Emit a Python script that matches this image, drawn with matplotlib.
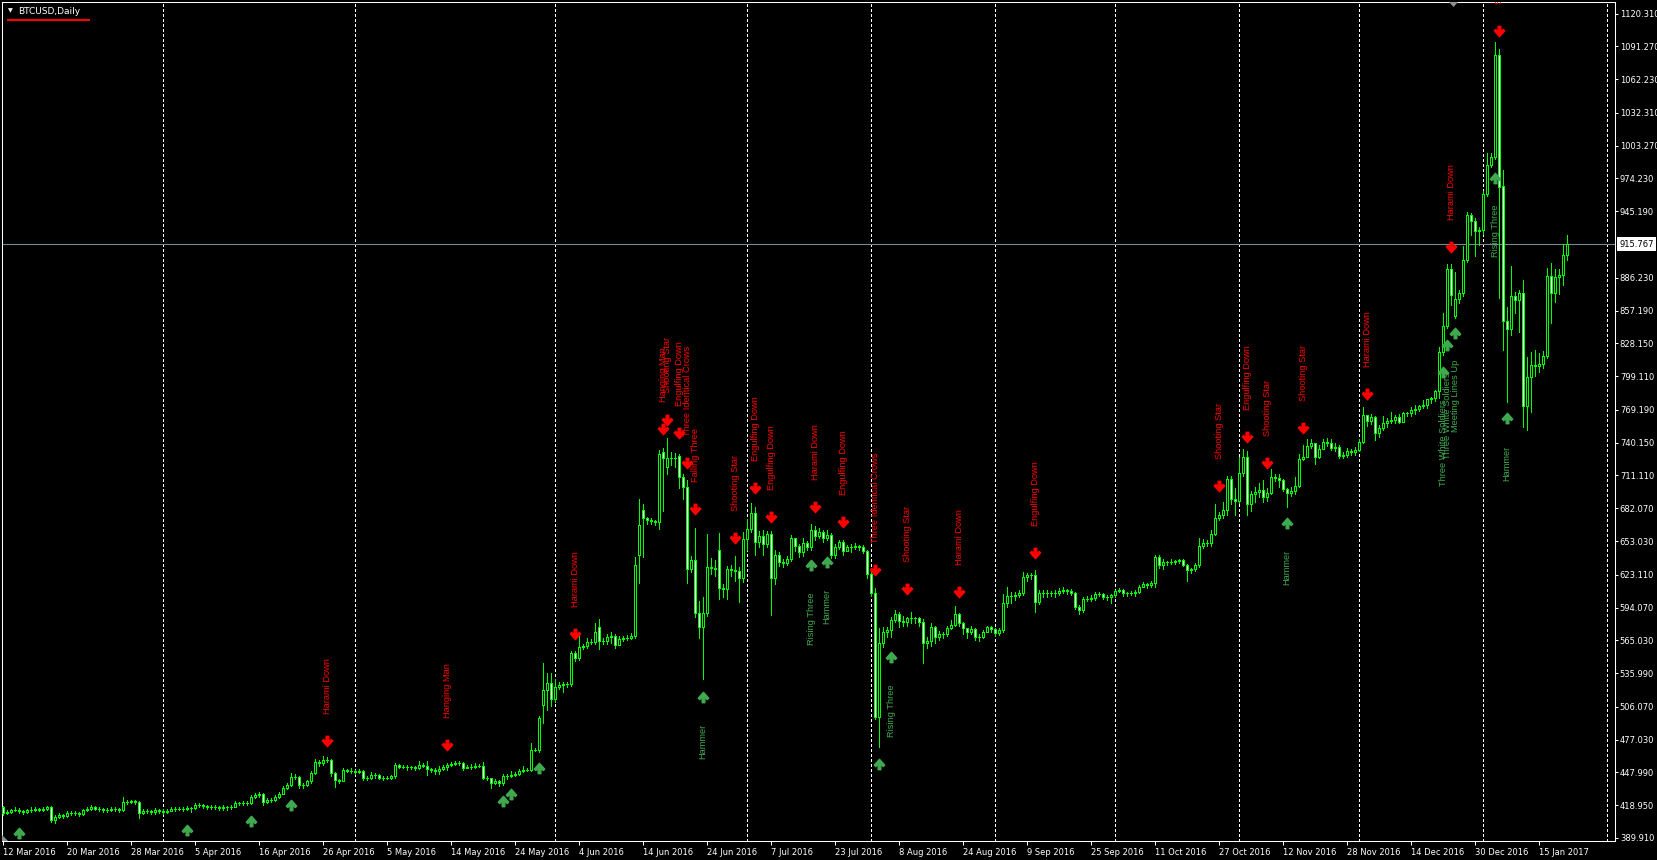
import numpy as np
import matplotlib
matplotlib.use('Agg')
import matplotlib.pyplot as plt
from matplotlib.path import Path
from matplotlib.lines import Line2D
from matplotlib.patches import Polygon

plt.rcParams['font.family'] = ['DejaVu Sans']

# ---- daily BTCUSD bars (bar index 0 = 12 Mar 2016) ----
closes = [
    412.0, 413.0, 414.5, 415.0, 414.0, 413.2, 414.5, 415.0, 415.3, 415.0,
    416.0, 417.0, 405.5, 408.8, 410.0, 409.5, 412.0, 412.2, 411.8, 411.0,
    414.7, 415.3, 417.0, 416.0, 415.3, 414.7, 414.7, 415.3, 415.3, 414.7,
    422.1, 422.0, 422.5, 422.0, 412.5, 414.0, 414.0, 413.0, 414.7, 414.0,
    413.0, 414.0, 415.3, 416.0, 416.0, 416.0, 416.2, 416.2, 419.2, 419.2,
    418.0, 417.7, 417.7, 417.7, 416.2, 417.0, 417.0, 417.7, 420.7, 420.7,
    420.7, 421.2, 426.5, 428.0, 429.0, 422.1, 423.6, 423.6, 426.5, 429.0,
    434.5, 436.9, 443.7, 444.3, 436.6, 437.0, 440.0, 447.8, 457.5, 456.6,
    459.0, 459.0, 447.8, 441.3, 440.7, 450.2, 449.5, 449.0, 448.7, 449.5,
    443.4, 443.4, 445.7, 445.7, 443.5, 443.5, 443.5, 444.5, 454.3, 453.1,
    453.1, 452.5, 452.5, 451.7, 454.6, 454.0, 450.6, 450.2, 449.5, 450.6,
    452.5, 454.6, 455.5, 456.1, 456.1, 451.7, 453.1, 452.5, 453.8, 453.8,
    443.4, 442.8, 438.9, 440.2, 438.9, 444.8, 444.8, 445.7, 446.6, 449.5,
    450.2, 450.2, 468.3, 468.3, 496.0, 521.0, 527.0, 512.8, 524.0, 525.5,
    526.0, 526.0, 553.5, 549.7, 559.5, 560.0, 563.9, 563.9, 572.7, 564.7,
    564.4, 568.3, 568.9, 561.0, 566.0, 566.9, 567.5, 568.9, 631.8, 667.2,
    673.2, 671.7, 670.8, 670.0, 729.9, 726.3, 726.3, 726.3, 727.0, 710.0,
    701.3, 628.0, 636.4, 589.5, 576.6, 589.5, 629.7, 629.0, 628.0, 611.1,
    610.5, 628.0, 627.5, 626.5, 620.0, 654.5, 663.4, 678.1, 652.4, 657.4,
    650.0, 659.0, 620.7, 640.8, 634.7, 633.6, 636.8, 655.4, 648.6, 643.6,
    651.6, 648.0, 662.8, 657.5, 661.3, 655.4, 658.4, 640.6, 647.5, 652.5,
    644.5, 648.0, 647.5, 648.9, 648.0, 644.5, 623.8, 606.7, 497.4, 562.4,
    572.7, 574.2, 583.1, 588.4, 582.5, 581.6, 584.6, 584.6, 584.6, 581.6,
    563.0, 564.7, 576.6, 567.7, 570.6, 570.6, 575.7, 578.3, 588.4, 580.7,
    575.7, 572.7, 574.8, 567.7, 568.3, 572.4, 576.6, 575.4, 571.3, 574.2,
    597.8, 604.3, 604.3, 605.2, 607.2, 621.4, 622.7, 623.0, 599.3, 607.2,
    606.6, 607.2, 607.2, 606.6, 609.0, 609.6, 609.0, 606.6, 594.9, 591.9,
    601.4, 601.4, 602.3, 606.1, 606.1, 603.7, 603.7, 605.2, 608.7, 609.6,
    606.6, 606.6, 606.6, 607.8, 612.0, 615.0, 614.0, 615.6, 638.6, 631.8,
    634.4, 634.4, 634.4, 635.3, 636.2, 631.8, 627.4, 628.0, 631.8, 648.6,
    651.6, 651.0, 659.3, 673.2, 676.1, 680.5, 707.7, 690.0, 688.8, 713.6,
    727.2, 685.8, 694.7, 696.5, 698.2, 692.3, 695.9, 709.5, 708.6, 707.1,
    698.9, 695.3, 697.6, 701.8, 725.4, 727.7, 737.2, 739.6, 727.2, 734.3,
    741.0, 740.0, 735.2, 736.1, 728.4, 729.0, 733.1, 732.2, 733.7, 741.0,
    764.7, 759.6, 763.2, 749.0, 752.9, 757.9, 759.6, 760.2, 763.2, 758.8,
    766.2, 766.2, 769.1, 770.3, 772.7, 773.5, 778.6, 779.5, 786.2, 820.8,
    843.5, 893.8, 871.0, 867.2, 872.5, 902.0, 941.9, 936.8, 928.0, 928.5,
    960.5, 986.2, 993.5, 1083.6, 966.4, 848.2, 840.6, 870.1, 866.6, 873.0,
    772.9, 798.1, 808.9, 808.3, 809.9, 817.0, 887.9, 873.0, 887.3, 888.8,
    906.5, 915.8,
]

highs = [
    418.5, 415, 416, 417, 416.5, 415, 416, 417, 417, 416.5,
    417.5, 418.5, 418, 410.5, 412, 411.5, 413.5, 414, 413.5, 413,
    416, 417, 419, 418, 417, 416.5, 416.5, 417, 417, 416.5,
    426.5, 424, 424, 423.5, 423, 416, 415.5, 415, 416.5, 416,
    415.5, 416, 417, 417.5, 417.5, 417.5, 418, 417.5, 421, 421,
    420, 419.5, 419, 419.5, 418.5, 419, 418.5, 419.5, 422.5, 422,
    422.5, 423, 428, 430, 430.5, 429.5, 425, 425.5, 428, 430.5,
    436, 439, 447.5, 447, 445, 439, 441.5, 449.5, 459.5, 459,
    462.5, 461.5, 460, 448.5, 442.5, 451.5, 451, 451.5, 450.5, 451,
    450.5, 445, 448, 447.5, 447, 445, 445, 446, 456, 455.5,
    454.5, 454.5, 454, 453.5, 458, 456, 458, 452, 452, 453.5,
    455, 456.5, 457, 458.5, 458, 457.5, 455, 455.5, 456, 455.5,
    457, 444.5, 443, 442.5, 441.5, 447, 447, 449, 448.5, 451,
    453.8, 452, 473.8, 470, 498, 545, 536, 536.4, 530.5, 528,
    528.5, 528, 556, 556, 571.3, 562, 566.8, 566, 580, 584,
    567, 570.5, 572, 571, 569, 568.5, 569.5, 571.5, 638.6, 690,
    685.8, 674, 673, 672, 733.7, 735.7, 744, 732.2, 731.3, 730,
    712, 707.2, 640, 665, 600, 603.7, 659.3, 638, 636, 660,
    615, 630.7, 632, 639.8, 630, 661, 672.3, 687, 682.8, 662,
    663, 662, 662, 645, 643, 637, 640, 658.7, 655.5, 650,
    656, 653, 668.2, 666.5, 664.5, 663, 663, 660, 650, 653.5,
    654, 649.5, 650, 651, 649.5, 649.5, 645.5, 626, 611, 576,
    577, 577, 586, 591.5, 590, 586.8, 586, 590, 586, 585.5,
    584, 568, 580, 578, 573, 572, 578, 583, 595.5, 589,
    581, 576, 578, 576, 571, 574, 578, 578, 576, 576,
    606.4, 612.6, 608, 608, 609.5, 625.8, 624.5, 625, 627, 610,
    609.5, 609.5, 609, 609.5, 611.5, 612.5, 610.5, 610.5, 608, 596,
    603, 604, 605, 607.5, 608, 607, 605.5, 606, 610, 611,
    610.5, 608, 608.5, 610, 614.5, 616.5, 616, 618, 640.6, 640.5,
    637.5, 635.5, 637, 636.5, 637, 637.5, 633, 629.5, 633.5, 655.4,
    654.5, 653.5, 662.5, 686.2, 679, 687.9, 710.7, 710.5, 700, 727.2,
    734.6, 733, 697, 701, 704, 707, 700, 716.5, 712.5, 712.5,
    708, 700, 701, 709.5, 730.5, 738, 743.2, 743.2, 740, 738.5,
    743.5, 744.5, 743, 739.5, 738, 731.5, 735.5, 734.5, 736.5, 743,
    771.5, 765, 766, 764, 756, 764, 762, 767, 764.5, 766,
    767, 767, 771.5, 773.5, 773.5, 778, 779, 781, 787, 825,
    854.8, 898.5, 898.5, 891.7, 875, 914.4, 944.8, 943.5, 939.5, 931,
    963.5, 996.6, 996.6, 1095.4, 1088.7, 981.8, 860.6, 896.7, 873.3, 875,
    884.3, 816.4, 820.8, 822.3, 819.3, 821.7, 894.7, 899.1, 893.8, 893.8,
    916.2, 924.2,
]

lows = [
    410.5, 411, 412.5, 413.5, 412.5, 411.5, 412.5, 413, 413.5, 413.5,
    414, 415, 404.5, 403.5, 407.5, 408, 408.5, 410.5, 410, 409.5,
    410.5, 413.5, 414.5, 414.5, 413.5, 413, 413, 413.5, 413.5, 413,
    413.5, 420, 420.5, 420, 408, 411, 412, 411, 411.5, 412,
    411.5, 412, 413.5, 414, 414.5, 414, 414.5, 413, 415.5, 417.5,
    416.5, 416, 416, 415.5, 414.5, 415, 415, 415.5, 417, 419,
    419, 419.5, 420, 425.5, 426.5, 419.5, 421, 421.5, 422.5, 425.5,
    428.5, 433.5, 436, 442, 434.5, 434.5, 436, 439, 447, 454,
    455, 457, 445, 435.5, 439, 440, 448, 447.5, 447, 447.5,
    441, 441.5, 442, 443.5, 442, 441.5, 442, 442.5, 443, 451.5,
    451.5, 450.5, 451, 450, 451, 452.5, 446, 448.5, 447, 446.5,
    450, 450.5, 453.5, 454.5, 454.5, 450.5, 451.5, 451, 452, 452.5,
    442, 441, 433.9, 437.5, 436, 437, 442.5, 444, 445, 445.5,
    448.5, 449, 449.5, 467, 466, 491.5, 503.5, 507, 510.7, 522,
    519, 524, 524.5, 547, 548, 557.5, 558, 561.5, 562, 557,
    561.5, 561.5, 562.5, 558, 560.5, 564.5, 565.5, 566.5, 567.4, 615.6,
    638.6, 668, 668.5, 667, 664, 679.9, 712.4, 720.3, 718.8, 700,
    690, 615.6, 625.4, 586, 567.4, 530.5, 587, 624, 622, 602,
    603, 601.4, 622, 618, 599, 616.6, 645, 661, 641, 648,
    641, 648, 587.6, 614.6, 631, 630, 632, 635, 644, 639,
    640, 645, 645, 654, 655.5, 652, 654, 638, 638, 646,
    640.5, 644, 643.5, 646, 645.5, 642, 620, 604, 495, 470.3,
    559, 568, 568, 581, 577, 577.5, 578, 580, 580, 578,
    544.8, 558, 559.9, 563, 565, 567.5, 569, 575, 578, 578,
    571, 567, 571, 565, 564.5, 567.5, 572, 572, 569, 570,
    572, 595, 598, 601, 603, 605, 617.5, 619, 590.4, 597,
    603, 603.5, 604, 603.5, 605, 607, 606.5, 605, 593, 588.5,
    590, 599.5, 599.5, 600.5, 604, 601.5, 601, 598.5, 603.5, 607.5,
    604, 604.5, 605, 604, 607, 612, 611.5, 612, 612, 629,
    628.5, 632, 633, 633, 633.5, 630.5, 617.7, 624.5, 626.5, 630,
    647, 648.5, 649, 658, 672, 673.5, 676, 685.8, 676.1, 687,
    711, 676.1, 679.4, 688, 692, 688, 688.5, 695, 706.5, 700.5,
    697, 683.5, 692.5, 694.5, 701, 725, 727.5, 735.5, 721, 727,
    734.5, 737.5, 733.5, 732.5, 726.5, 726.5, 727.5, 729.5, 729.5, 733,
    740, 754.5, 757, 742.6, 745.5, 751.5, 754, 757.5, 758, 757.5,
    758.5, 764, 764, 766, 768.5, 771, 771, 775, 777.5, 780,
    817.8, 841.5, 862, 850.5, 864, 870, 900, 924.5, 905.6, 915,
    925, 959, 984, 991.2, 868, 822.3, 776.5, 835.6, 855, 838.5,
    753.8, 751.4, 767.6, 798.9, 803, 806, 815, 846.5, 865, 872,
    880, 902,
]

# bars whose open differs from the previous close
gap_opens = {0: 417.0, 135: 507.7, 149: 577.0, 159: 640.6, 160: 680.5,
             165: 732.2, 166: 718.5, 169: 728.0, 179: 645.1, 363: 852.4,
             375: 967.6}

bid = 915.767

# pattern signals
bear_bars = [81, 111, 143, 165, 166, 169, 171, 173, 183, 188, 192, 203,
             210, 218, 226, 239, 258, 304, 311, 316, 325, 341, 362, 374]
bear_prices = [476.1, 472.3, 570.6, 752.0, 760.2, 748.5, 722.4, 681.7,
               655.4, 699.7, 674.6, 683.4, 670.1, 627.3, 610.2, 607.6,
               642.7, 701.8, 744.9, 721.9, 752.9, 783.0, 913.8, 1105.2]
bear_labels = ['Harami Down', 'Hanging Man', 'Harami Down', 'Hanging Man',
               'Shooting Star', 'Engulfing Down', 'Three Identical Crows',
               'Falling Three', 'Shooting Star', 'Engulfing Down',
               'Engulfing Down', 'Harami Down', 'Engulfing Down',
               'Three Identical Crows', 'Shooting Star', 'Harami Down',
               'Engulfing Down', 'Shooting Star', 'Engulfing Down',
               'Shooting Star', 'Shooting Star', 'Harami Down',
               'Harami Down', 'Shooting Star']

bull_bars = [4, 46, 62, 72, 125, 127, 134, 175, 202, 206, 219, 222, 321,
             360, 361, 363, 373, 376]
bull_prices = [394.6, 397.0, 405.0, 419.2, 422.9, 428.6, 451.7, 515.1,
               631.8, 634.7, 455.2, 550.0, 669.3, 803.0, 826.7, 837.6,
               975.1, 761.8]
bull_labels = ['', '', '', '', '', '', '', 'Hammer', 'Rising Three', 'Hammer',
               '', 'Rising Three', 'Hammer', 'Three White Soldiers',
               'Three White Soldiers', 'Meeting Lines Up', 'Rising Three',
               'Hammer']

# axis annotations
month_start_bars = [40, 88, 138, 186, 217, 248, 278, 309, 339, 370, 401]
date_labels = ['12 Mar 2016', '20 Mar 2016', '28 Mar 2016', '5 Apr 2016',
               '16 Apr 2016', '26 Apr 2016', '5 May 2016', '14 May 2016',
               '24 May 2016', '4 Jun 2016', '14 Jun 2016', '24 Jun 2016',
               '7 Jul 2016', '23 Jul 2016', '8 Aug 2016', '24 Aug 2016',
               '9 Sep 2016', '25 Sep 2016', '11 Oct 2016', '27 Oct 2016',
               '12 Nov 2016', '28 Nov 2016', '14 Dec 2016', '30 Dec 2016',
               '15 Jan 2017']
date_label_step = 16
price_labels = [1120.310, 1091.270, 1062.230, 1032.310, 1003.270, 974.230,
                945.190, 886.230, 857.190, 828.150, 799.110, 769.190,
                740.150, 711.110, 682.070, 653.030, 623.110, 594.070,
                565.030, 535.990, 506.070, 477.030, 447.990, 418.950,
                389.910]

# ---- build OHLC ----
n = len(closes)
opens = [gap_opens.get(i, closes[i - 1] if i else closes[0]) for i in range(n)]
o = np.array(opens)
c = np.array(closes)
h = np.array(highs)
l = np.array(lows)
x = np.arange(n)

LIME = '#00ff00'
W, H = 1657, 860
fig = plt.figure(figsize=(W / 100, H / 100), dpi=100, facecolor='black')
# plot frame in pixels: left 2, right 1615, top 2, bottom 841
ax = fig.add_axes([2 / W, 1 - 841 / H, 1613 / W, 839 / H])
ax.set_facecolor('black')
ax.set_xlim(-0.25, 403)
ax.set_ylim(387.25, 1130.6)

for b in month_start_bars:
    ax.axvline(b, color='white', lw=0.7, ls=(0, (3, 3)), antialiased=False, zorder=1)
ax.axhline(bid, color='#778899', lw=0.8, zorder=1.5)

bull = c >= o
ax.vlines(x, l, h, colors=LIME, linewidth=0.6, antialiased=False, zorder=2)
ax.bar(x, np.abs(c - o), bottom=np.minimum(o, c), width=0.5,
       color=np.where(bull, 'black', 'white'), edgecolor=LIME,
       linewidth=0.6, antialiased=False, zorder=3)

# arrow markers
dn = [(-0.13, 0.5), (0.13, 0.5), (0.13, -0.02), (0.36, 0.2), (0.5, 0.06),
      (0, -0.5), (-0.5, 0.06), (-0.36, 0.2), (-0.13, -0.02), (-0.13, 0.5)]
down_arrow = Path(dn, closed=True)
up_arrow = Path([(px, -py) for px, py in dn], closed=True)

RED = '#ff0000'
GREEN = '#3faa4f'
ann_font = dict(fontsize=6.7, family='Liberation Sans', rotation=90)
for b, p, t in zip(bear_bars, bear_prices, bear_labels):
    ax.plot(b, p, marker=down_arrow, ms=7.5, color=RED, ls='none', zorder=4)
    if t:
        ax.annotate(t, (b, p), xytext=(0, 19.5), textcoords='offset points',
                    ha='center', va='bottom', color=RED, clip_on=True,
                    zorder=5, **ann_font)
for b, p, t in zip(bull_bars, bull_prices, bull_labels):
    ax.plot(b, p, marker=up_arrow, ms=7.5, color=GREEN, ls='none', zorder=4)
    if t:
        ax.annotate(t, (b, p), xytext=(0, -19.5), textcoords='offset points',
                    ha='center', va='top', color=GREEN, clip_on=True,
                    zorder=5, **ann_font)

# axes styling
for s in ax.spines.values():
    s.set_color('white')
    s.set_linewidth(0.75)
ax.yaxis.tick_right()
ax.set_yticks(price_labels)
ax.set_yticklabels([f'{v:.3f}' for v in price_labels])
ax.tick_params(axis='y', colors='white', labelsize=6.0, length=2.5, width=0.75, pad=1.0)
ax.set_xticks(np.arange(len(date_labels)) * date_label_step)
ax.set_xticklabels(date_labels)
ax.tick_params(axis='x', colors='white', labelsize=6, length=3, width=0.75, pad=2)
for lab in ax.get_xticklabels():
    lab.set_horizontalalignment('left')

ax.annotate(f'{bid:.3f}', xy=(1, bid), xycoords=('axes fraction', 'data'),
            xytext=(3.2, 0), textcoords='offset points', ha='left', va='center',
            fontsize=6.0, color='black', annotation_clip=False, zorder=10,
            bbox=dict(boxstyle='square,pad=0.3', fc='white', ec='none'))

# window header and small markers
fig.text(8 / W, 1 - 11 / H, '\u25bc', color='white', fontsize=4.5, va='center')
fig.text(18 / W, 1 - 11 / H, 'BTCUSD,Daily', color='white', fontsize=6.5, va='center')
fig.add_artist(Line2D([8 / W, 89 / W], [1 - 19.5 / H] * 2, color='red', lw=1.5))
fig.add_artist(Polygon([(1449 / W, 1 - 2 / H), (1458 / W, 1 - 2 / H), (1453.5 / W, 1 - 7 / H)],
                       closed=True, fc='#909090', ec='none'))
fig.add_artist(Polygon([(2 / W, 1 - 835 / H), (2 / W, 1 - 841 / H), (8 / W, 1 - 841 / H)],
                       closed=True, fc='#909090', ec='none'))

fig.savefig('out.png', dpi=100, facecolor='black')
